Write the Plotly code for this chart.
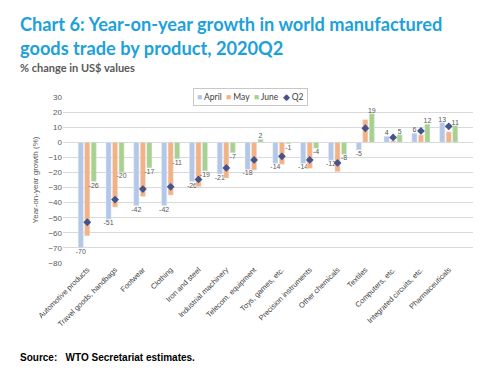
import plotly.graph_objects as go

categories = ["Automotive products", "Travel goods, handbags", "Footwear", "Clothing",
              "Iron and steel", "Industrial machinery", "Telecom. equipment",
              "Toys, games, etc.", "Precision instruments", "Other chemicals",
              "Textiles", "Computers, etc.", "Integrated circuits, etc.", "Pharmaceuticals"]
april = [-70, -51, -42, -42, -26, -21, -18, -14, -14, -12, -5, 4, 6, 13]
may = [-62, -43, -36, -35, -29.5, -23.7, -18.4, -14.6, -17.3, -19.5, 15, 1, 4.9, 6.9]
june = [-26, -20, -17, -11, -19, -7, 2, -1, -4, -8, 19, 5, 12, 11]
q2 = [-53, -38, -31, -29.5, -24.6, -17, -11.7, -9.3, -11.7, -13.7, 9.3, 3.2, 7.5, 10.6]
y_ticks = [30, 20, 10, 0, -10, -20, -30, -40, -50, -60, -70, -80]

c_april, c_may, c_june, c_q2 = "#B4C7E7", "#F4B183", "#A9D18E", "#44548A"
label_font = dict(family="Liberation Sans", size=7, color="#595959")

fig = go.Figure()
fig.add_trace(go.Bar(name="April", x=categories, y=april, marker_color=c_april,
                     text=[str(v) for v in april], textposition="outside",
                     textfont=label_font, cliponaxis=False, constraintext="none"))
fig.add_trace(go.Bar(name="May", x=categories, y=may, marker_color=c_may))
fig.add_trace(go.Bar(name="June", x=categories, y=june, marker_color=c_june,
                     text=[str(v) for v in june], textposition="outside",
                     textfont=label_font, cliponaxis=False, constraintext="none"))
fig.add_trace(go.Scatter(name="Q2", x=categories, y=q2, mode="markers",
                         marker=dict(symbol="diamond", size=6, color=c_q2)))

fig.update_layout(
    width=500, height=379,
    margin=dict(l=55, r=35, t=89, b=124),
    paper_bgcolor="white", plot_bgcolor="white",
    barmode="group", bargap=0.3, bargroupgap=0.2,
    showlegend=False,
    xaxis=dict(tickangle=-45, tickfont=dict(family="Liberation Sans", size=7.5, color="#404040"),
               showgrid=False, showline=False, ticks=""),
    yaxis=dict(range=[-80, 30], tickvals=y_ticks, showgrid=True, gridcolor="#D9D9D9",
               zeroline=True, zerolinecolor="#D9D9D9", zerolinewidth=1,
               tickfont=dict(family="Liberation Sans", size=8, color="#595959"),
               title=dict(text="Year-on-year growth (%)", standoff=8,
                          font=dict(family="Liberation Sans", size=8, color="#595959"))),
    font=dict(family="Liberation Sans"),
)

# legend drawn as a text box
names = ["April", "May", "June", "Q2"]
cols = [c_april, c_may, c_june, c_q2]
syms = ["■", "■", "■", "◆"]
legend_txt = "&nbsp;&nbsp;".join(
    f"<span style='color:{c}'>{s}</span>&nbsp;{n}" for n, c, s in zip(names, cols, syms))
fig.add_annotation(text=legend_txt, xref="paper", yref="paper", x=0.4585, y=1.0,
                   xanchor="center", yanchor="middle", showarrow=False,
                   bgcolor="white", bordercolor="#C8C8C8", borderwidth=1, borderpad=3,
                   font=dict(family="Lato", size=8.5, color="#404040"))

fig.add_annotation(text="Chart 6: Year-on-year growth in world manufactured<br>goods trade by product, 2020Q2",
                   xref="paper", yref="paper", x=0, y=1, xanchor="left", yanchor="top",
                   xshift=-45, yshift=86, align="left", showarrow=False,
                   font=dict(family="Lato", size=18.2, color="#1DA1DA", weight="bold"))
fig.add_annotation(text="% change in US$ values", xref="paper", yref="paper",
                   x=0, y=1, xanchor="left", yanchor="top", xshift=-45, yshift=38,
                   showarrow=False, font=dict(family="Lato", size=11, color="#595959", weight="bold"))
fig.add_annotation(text="Source:   WTO Secretariat estimates.", xref="paper", yref="paper",
                   x=0, y=0, xanchor="left", yanchor="middle", xshift=-45, yshift=-94,
                   showarrow=False, font=dict(family="Liberation Sans", size=10, color="#000000", weight="bold"))

fig.write_html("out.html")
